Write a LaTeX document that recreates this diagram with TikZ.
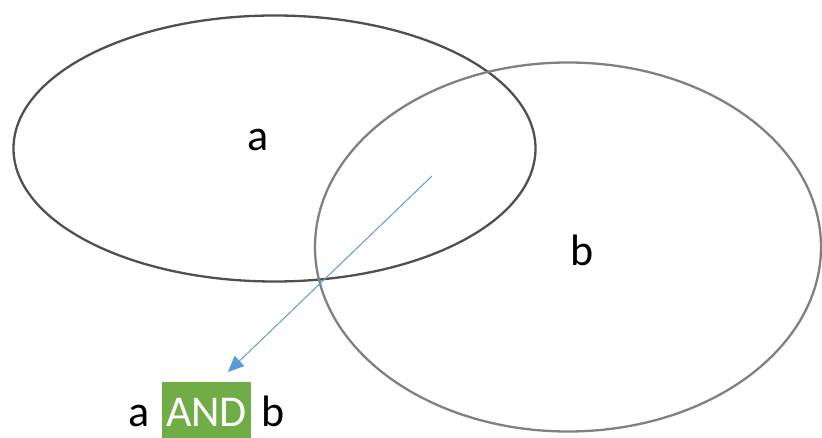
\documentclass[tikz,border=0pt]{standalone}
\usepackage{fontspec}
\setmainfont{Carlito}
\usetikzlibrary{shapes.geometric,arrows.meta}
\definecolor{setA}{HTML}{505050}
\definecolor{setB}{HTML}{808080}
\definecolor{andgreen}{HTML}{70AD47}
\definecolor{arrowblue}{HTML}{5B9BD5}
\begin{document}
\begin{tikzpicture}[x=1pt,y=-1pt,
  setshape/.style={ellipse,draw,line width=2.3pt,inner sep=0pt},
  lbl/.style={font=\fontsize{44}{44}\selectfont,inner sep=0pt,text=black},
  conn/.style={draw=arrowblue,line width=1pt,-{Triangle[length=16pt,width=14pt]}}]
\useasboundingbox (0,0) rectangle (822,438);
\node[setshape,draw=setA,minimum width=522pt,minimum height=266pt] (A) at (274.5,148.5) {};
\node[setshape,draw=setB,minimum width=506pt,minimum height=369pt] (B) at (568,247) {};
\node[lbl] (la) at (258,140) {a};
\node[lbl] (lb) at (582,250) {b};
\node[lbl,anchor=base] (ra) at (139,426) {a};
\node[fill=andgreen,minimum width=89pt,minimum height=57pt,inner sep=0pt] (and) at (206.5,410.5) {};
\node[lbl,text=white,anchor=base] (andtxt) at (206.5,426) {AND};
\node[lbl,anchor=base] (rb) at (273,426) {b};
\coordinate (s) at (432,176);
\coordinate (t) at (228,372);
\draw[conn] (s) -- (t);
\end{tikzpicture}
\end{document}
